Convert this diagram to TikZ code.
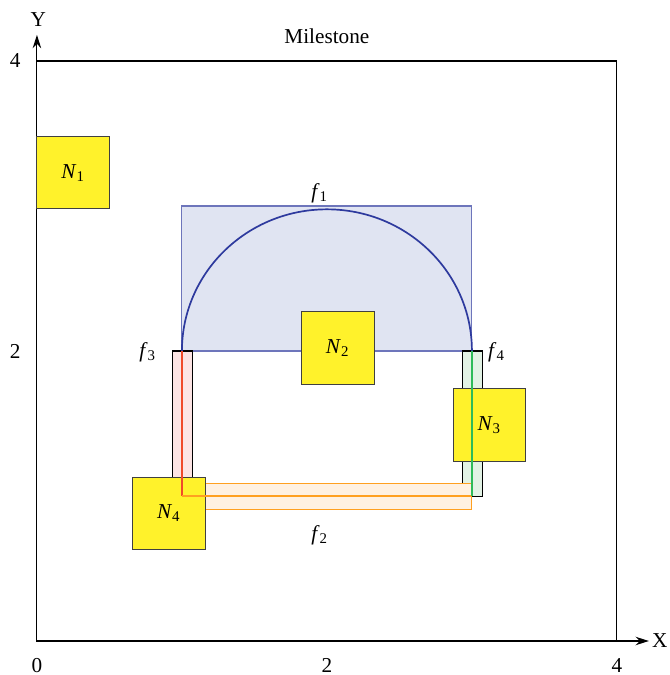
\documentclass[tikz,border=0pt]{standalone}
\usepackage{fontspec}
\setmainfont{Liberation Serif}
\usepackage{xcolor}
\usetikzlibrary{positioning, arrows.meta}

\definecolor{nodeyellow}{HTML}{FFF22B}
\definecolor{fblue}{HTML}{2E3A9E}
\definecolor{fbluefill}{HTML}{E0E4F2}
\definecolor{fred}{HTML}{F04A2A}
\definecolor{fredfill}{HTML}{FCE4E4}
\definecolor{fgreen}{HTML}{2EBB5A}
\definecolor{fgreenfill}{HTML}{E2F2E5}
\definecolor{forange}{HTML}{FFA020}
\definecolor{forangefill}{HTML}{FFF1E1}

\newcommand{\lab}[2]{\textit{#1}\textsubscript{#2}}

\begin{document}
\begin{tikzpicture}[
    x=2.4cm, y=2.4cm,
    font=\normalsize,
    milestone/.style={
        rectangle,
        draw=black!75,
        fill=nodeyellow,
        line width=0.5pt,
        minimum width=1.2cm,
        minimum height=1.2cm,
        inner sep=0pt
    },
    frame/.style={black, line width=0.5pt},
    axis/.style={-{Stealth[length=2.2mm, width=1.4mm]}, line width=0.5pt},
    band/.style={line width=0.5pt},
    path/.style={line width=0.8pt}
]

\useasboundingbox (-0.2547,-0.2345) rectangle (4.365,4.4207);

% Corners of the flow
\coordinate (a) at (1,2);
\coordinate (b) at (3,2);
\coordinate (c) at (1,1);
\coordinate (d) at (3,1);
\coordinate (o) at (0,0);
\coordinate (xe) at (4.22,0);
\coordinate (ye) at (0,4.18);

% Field and axes
\draw[frame] (0,0) rectangle (4,4);
\draw[axis] (o) -- (xe);
\draw[axis] (o) -- (ye);
\node (xl) at (4.296,0) {X};
\node (yl) at (0.01,4.283) {Y};

\node (x0) at (0,-0.166) {0};
\node (x2) at (2,-0.166) {2};
\node (x4) at (4,-0.166) {4};
\node (y2) at (-0.15,2) {2};
\node (y4) at (-0.15,4) {4};

\node (title) at (2,4.17) {Milestone};

% Bands
\draw[band, draw=fblue!70, fill=fbluefill] (1,2) rectangle (3,3);
\draw[band, draw=black, fill=fredfill] (0.935,1.0) rectangle (1.07,2);
\draw[band, draw=black, fill=fgreenfill] (2.935,0.995) rectangle (3.07,2);
\draw[band, draw=forange, fill=forangefill] (0.93,0.91) rectangle (3,1.085);

% Milestones
\node[milestone] (n1) at (0.25,3.23) {\lab{N}{1}};
\node[milestone] (n2) at (2.075,2.02) {\lab{N}{2}};
\node[milestone] (n3) at (3.12,1.49) {\lab{N}{3}};
\node[milestone] (n4) at (0.91,0.88) {\lab{N}{4}};

% Flows
\draw[path, fblue] (a) arc[start angle=180, end angle=0, x radius=1, y radius=0.977];
\draw[path, fred] (a) -- (c);
\draw[path, forange] (c) -- (d);
\draw[path, fgreen] (b) -- (d);

\node (f1) at (1.95,3.09) {\lab{f}{1}};
\node (f2) at (1.95,0.73) {\lab{f}{2}};
\node (f3) at (0.764,1.99) {\lab{f}{3}};
\node (f4) at (3.17,1.99) {\lab{f}{4}};

\end{tikzpicture}
\end{document}
